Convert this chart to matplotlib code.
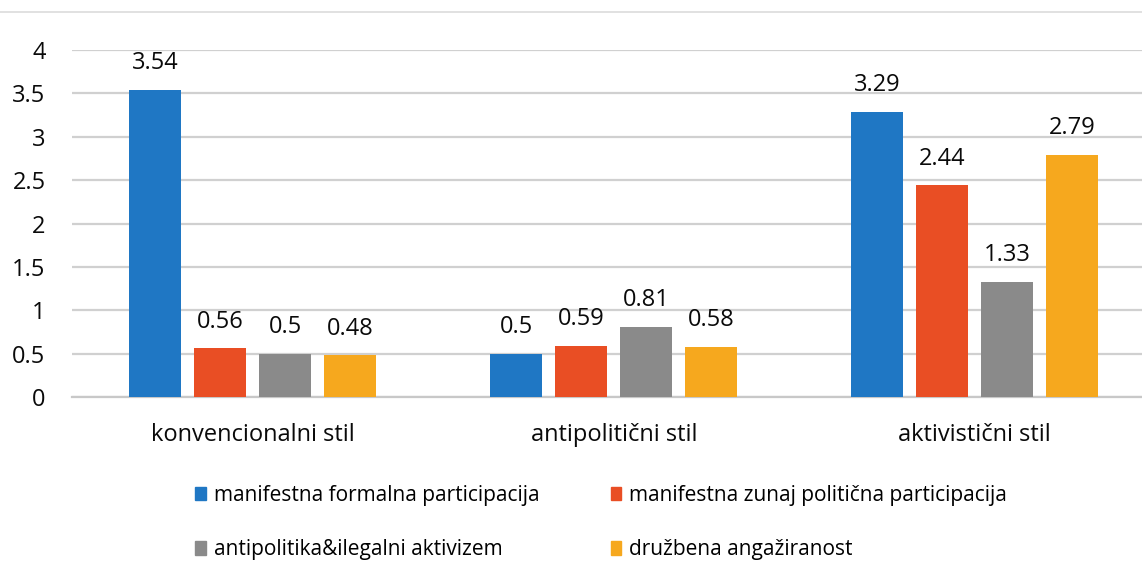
import matplotlib.pyplot as plt
import numpy as np
from matplotlib.lines import Line2D
from matplotlib.patches import Patch

categories = ['konvencionalni stil', 'antipolitični stil', 'aktivistični stil']
series_names = ['manifestna formalna participacija',
                'manifestna zunaj politična participacija',
                'antipolitika&ilegalni aktivizem',
                'družbena angažiranost']
formalna = [3.54, 0.5, 3.29]
zunaj = [0.56, 0.59, 2.44]
antipolitika = [0.5, 0.81, 1.33]
druzbena = [0.48, 0.58, 2.79]
values = [formalna, zunaj, antipolitika, druzbena]
colors = ['#1F77C4', '#E94E24', '#8A8A8A', '#F6A81E']

plt.rcParams['font.family'] = ['Open Sans', 'DejaVu Sans']

fig = plt.figure(figsize=(11.42, 5.61), dpi=100)
ax = fig.add_axes([0.063, 0.2923, 0.937, 0.6186])

x = np.arange(len(categories))
width = 0.144
step = 0.18
for i, (vals, col) in enumerate(zip(values, colors)):
    b = ax.bar(x + (i - 1.5) * step, vals, width, color=col, zorder=3)
    for rect, v in zip(b, vals):
        ax.text(rect.get_x() + rect.get_width() / 2, v + 0.17, f'{v:g}',
                ha='center', va='bottom', fontsize=17, color='#0a0a0a')

ax.set_xlim(-0.501, 2.463)
ax.set_ylim(0, 4)
ax.set_yticks([0, 0.5, 1, 1.5, 2, 2.5, 3, 3.5, 4])
ax.set_yticklabels(['0', '0.5', '1', '1.5', '2', '2.5', '3', '3.5', '4'])
ax.yaxis.grid(True, color='#d0d0d0', linewidth=1.6, zorder=0)
ax.set_axisbelow(True)
ax.set_xticks(x)
ax.set_xticklabels(categories)
ax.tick_params(axis='both', length=0, labelsize=17, colors='#0a0a0a')
ax.tick_params(axis='x', pad=19)
ax.tick_params(axis='y', pad=19)
for s in ['top', 'right', 'left']:
    ax.spines[s].set_visible(False)
ax.spines['bottom'].set_color('#c8c8c8')
ax.spines['bottom'].set_linewidth(1.6)

# thin separator line at the top of the figure
fig.add_artist(Line2D([0, 1], [1 - 12 / 561, 1 - 12 / 561],
                      color='#dcdcdc', linewidth=1.2))

handles = [Patch(color=c) for c in colors]
order = [0, 2, 1, 3]
fig.legend([handles[i] for i in order], [series_names[i] for i in order],
           ncol=2, loc='upper left', bbox_to_anchor=(0.162, 0.154),
           frameon=False, fontsize=15, handlelength=0.5, handleheight=0.6,
           handletextpad=0.4, columnspacing=3.4, labelspacing=1.6,
           borderpad=0)

fig.savefig('out.png', dpi=100)
